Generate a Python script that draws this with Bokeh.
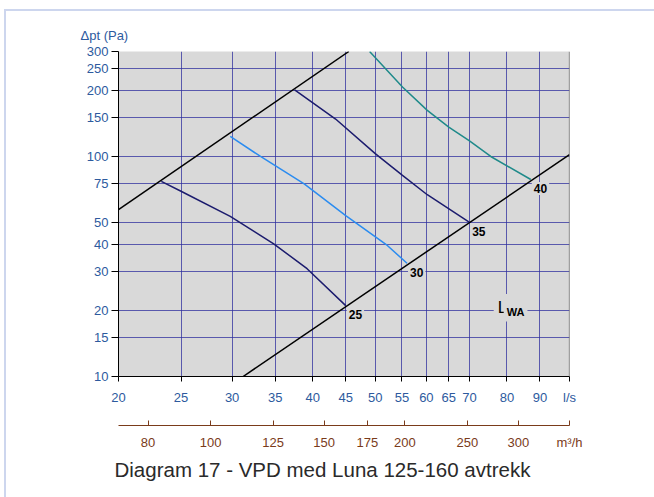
from bokeh.plotting import figure
from bokeh.models import (FixedTicker, PrintfTickFormatter, LogAxis, Range1d,
                          LogScale, Label, Span, Title)
from bokeh.embed import file_html
from bokeh.resources import INLINE

# ---- data (flow in l/s, pressure in Pa) ----
x_ticks = [20, 25, 30, 35, 40, 45, 50, 55, 60, 65, 70, 80, 90, 100]
x_tick_labels = {100: "l/s"}
y_ticks = [10, 15, 20, 30, 40, 50, 75, 100, 150, 200, 250, 300]
m3h_ticks = [80, 100, 125, 150, 175, 200, 250, 300, 360]
m3h_tick_labels = {360: "m\u00b3/h"}

upper_q = [20, 45.5]
upper_dp = [57.4, 300]
lower_q = [31.2, 100]
lower_dp = [10, 102]

c25_q = [23.3, 25, 29.8, 34.8, 39.2, 45.0]
c25_dp = [77, 69.5, 53.4, 40.1, 30.9, 21.0]
c30_q = [29.8, 33.2, 38.8, 45.0, 52.2, 56.0]
c30_dp = [123.3, 100, 75.1, 53.9, 39.4, 32.7]
c35_q = [37.5, 43.4, 50.0, 55.1, 60.2, 69.9]
c35_dp = [201, 148, 103, 82, 67, 50.3]
c40_q = [49.0, 55.1, 60.2, 65.0, 69.9, 75.5, 87.1]
c40_dp = [300, 207, 162, 136, 118, 100, 78.6]

curve_labels = ["25", "30", "35", "40"]

BLUE_TXT = "#2d5a9e"
BROWN = "#7a3b1a"
GRID = "#2e2e9e"
FONT = "Liberation Sans"
BORDER = "#cdd6ee"

p = figure(x_axis_type="log", y_axis_type="log",
           x_range=Range1d(20, 100), y_range=Range1d(10, 300),
           frame_width=451, frame_height=325,
           min_border_left=118, min_border_right=85,
           min_border_top=51, min_border_bottom=121,
           output_backend="svg", toolbar_location=None,
           background_fill_color="#d9d9d9", border_fill_color=None)
p.outline_line_color = None

# grids
for g in (p.xgrid, p.ygrid):
    g.grid_line_color = GRID
    g.grid_line_alpha = 0.75
    g.grid_line_width = 1

# primary x axis (l/s)
xa = p.xaxis[0]
xa.ticker = FixedTicker(ticks=x_ticks)
xa.formatter = PrintfTickFormatter(format="%d")
xa.major_label_overrides = x_tick_labels
xa.major_label_text_color = BLUE_TXT
xa.major_label_text_font = FONT
xa.major_label_text_font_size = "13px"
xa.major_tick_out = 5
xa.major_tick_in = 0
xa.minor_tick_line_color = None
xa.major_label_standoff = 8
xa.axis_line_color = "black"
xa.major_tick_line_color = "black"
xa.axis_label = " "
xa.axis_label_text_font_size = "13px"
xa.axis_label_standoff = 0

# y axis
ya = p.yaxis[0]
ya.ticker = FixedTicker(ticks=y_ticks)
ya.formatter = PrintfTickFormatter(format="%d")
ya.major_label_text_color = BLUE_TXT
ya.major_label_text_font = FONT
ya.major_label_text_font_size = "13px"
ya.major_tick_out = 7
ya.major_tick_in = 0
ya.minor_tick_line_color = None
ya.major_label_standoff = 3
ya.axis_line_color = "black"
ya.major_tick_line_color = "black"

# secondary x axis (m3/h)
p.extra_x_ranges = {"m3h": Range1d(20 * 3.6, 100 * 3.6)}
p.extra_x_scales = {"m3h": LogScale()}
ax2 = LogAxis(x_range_name="m3h", ticker=FixedTicker(ticks=m3h_ticks),
              formatter=PrintfTickFormatter(format="%d"))
ax2.major_label_overrides = m3h_tick_labels
ax2.major_tick_in = 5
ax2.major_tick_out = 0
ax2.minor_tick_line_color = None
ax2.axis_line_color = BROWN
ax2.major_tick_line_color = BROWN
ax2.major_label_text_color = BROWN
ax2.major_label_text_font = FONT
ax2.major_label_text_font_size = "13px"
ax2.major_label_standoff = 9
p.add_layout(ax2, "below")

# title below
t = Title(text="Diagram 17 - VPD med Luna 125-160 avtrekk", align="left",
          offset=-4, text_font=FONT, text_font_size="20.5px",
          text_font_style="normal", text_color="#2a2a2a", standoff=6)
p.add_layout(t, "below")

# y-axis caption above the frame
yt = Title(text="\u0394pt (Pa)", align="left", offset=-38, text_font=FONT,
           text_font_size="13px", text_font_style="normal",
           text_color=BLUE_TXT, standoff=17)
p.add_layout(yt, "above")

# right frame edge
p.add_layout(Span(location=100, dimension="height", line_color="#555555", line_width=1.2))

# lines
p.line(upper_q, upper_dp, line_color="black", line_width=1.5)
p.line(lower_q, lower_dp, line_color="black", line_width=1.5)
p.line(c25_q, c25_dp, line_color="#1c1c6e", line_width=1.5)
p.line(c30_q, c30_dp, line_color="#2b8cf0", line_width=1.5)
p.line(c35_q, c35_dp, line_color="#1c1c6e", line_width=1.5)
p.line(c40_q, c40_dp, line_color="#1f8a8a", line_width=1.5)

# curve end labels
ends = [(c25_q[-1], c25_dp[-1]), (c30_q[-1], c30_dp[-1]),
        (c35_q[-1], c35_dp[-1]), (c40_q[-1], c40_dp[-1])]
for txt, (q, d) in zip(curve_labels, ends):
    p.add_layout(Label(x=q, y=d, text=txt, x_offset=1, y_offset=-9,
                       text_align="left", text_baseline="middle",
                       text_font=FONT, text_font_size="12px",
                       text_font_style="bold", text_color="black",
                       background_fill_color="#d9d9d9", padding=2))

# LWA label
p.add_layout(Label(x=77.4, y=20.6, x_offset=-4, text="L", text_align="left",
                   text_baseline="middle", text_font=FONT,
                   text_font_size="17px", text_color="black",
                   background_fill_color="#d9d9d9", padding=4))
p.add_layout(Label(x=77.4, y=20.6, x_offset=6, y_offset=-5, text="WA",
                   text_align="left", text_baseline="middle", text_font=FONT,
                   text_font_size="11px", text_font_style="bold",
                   text_color="black", background_fill_color="#d9d9d9",
                   padding=3))

p.styles = {"background": (
    f"linear-gradient({BORDER}, {BORDER}) 4px 9px / 100% 2px no-repeat, "
    f"linear-gradient({BORDER}, {BORDER}) 4px 9px / 2px 100% no-repeat, #ffffff")}

open("out.html", "w").write(file_html(p, INLINE))
